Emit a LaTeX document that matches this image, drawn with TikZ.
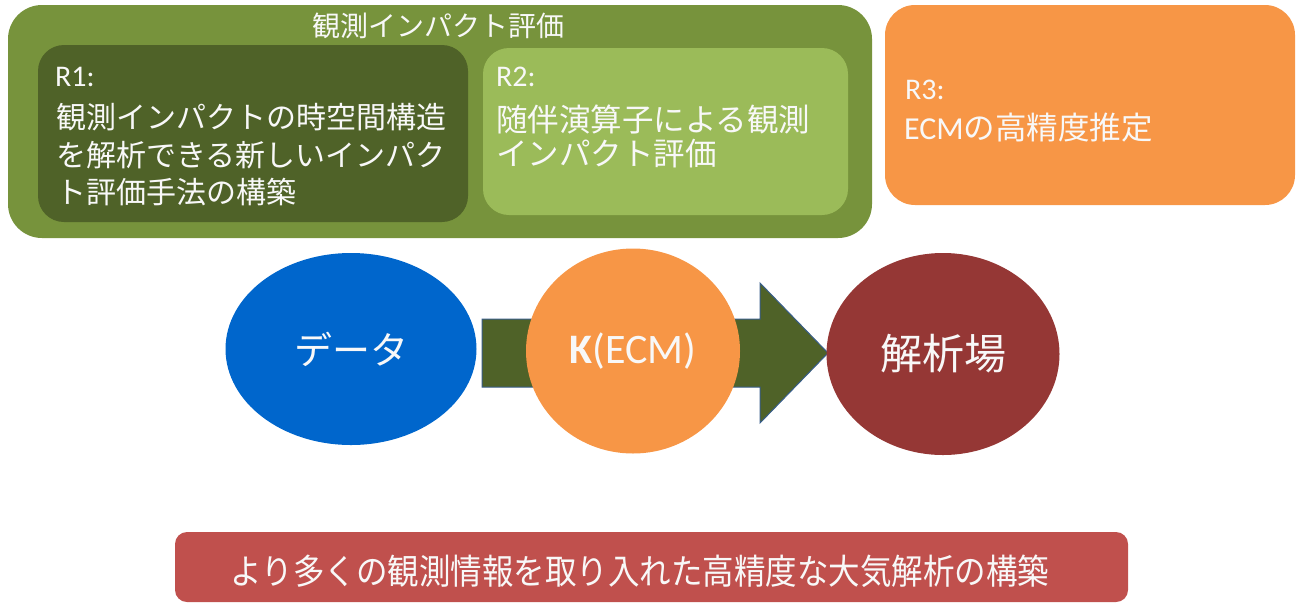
\documentclass[tikz,border=0pt]{standalone}
\usepackage{fontspec}
\newfontfamily\jp{Noto Sans CJK JP}
\newfontfamily\lat{Carlito}
\usetikzlibrary{shapes.geometric}
\definecolor{outergreen}{HTML}{77933C}
\definecolor{darkgreen}{HTML}{4F6228}
\definecolor{lightgreen}{HTML}{9BBB59}
\definecolor{orangebox}{HTML}{F79646}
\definecolor{bluefill}{HTML}{0066CC}
\definecolor{darkred}{HTML}{953735}
\definecolor{redbox}{HTML}{C0504D}
\definecolor{arrowline}{HTML}{385D8A}
\definecolor{txt}{HTML}{F8F8F8}
\begin{document}
\begin{tikzpicture}[x=1pt,y=-1pt,
  panel/.style={draw=none,inner sep=0pt,outer sep=0pt,anchor=north west},
  blob/.style={ellipse,draw=none,inner sep=0pt,outer sep=0pt,text=txt},
  label/.style={inner sep=0pt,outer sep=0pt,anchor=west,text=txt,align=left},
  rtag/.style={label,font=\lat\fontsize{30}{32}\selectfont},
  jline/.style={label,font=\jp\fontsize{30}{36}\selectfont}]
\useasboundingbox (0,0) rectangle (1305,603);
% top panels
\node[panel,fill=outergreen,rounded corners=34pt,minimum width=864pt,minimum height=233pt] (outer) at (8,5) {};
\node[inner sep=0pt,text=txt,font=\jp\fontsize{28}{32}\selectfont] (title) at (438,26) {観測インパクト評価};
\node[panel,fill=darkgreen,rounded corners=26pt,minimum width=430pt,minimum height=177pt] (r1) at (38,45) {};
\node[panel,fill=lightgreen,rounded corners=26pt,minimum width=365pt,minimum height=167pt] (r2) at (483,48) {};
\node[panel,fill=orangebox,rounded corners=30pt,minimum width=410pt,minimum height=200pt] (r3) at (885,5) {};
% R1 text
\node[rtag] (r1tag) at (55,77) {R1:};
\node[jline] (r1a) at (56,117) {観測インパクトの時空間構造};
\node[jline] (r1b) at (56,155) {を解析できる新しいインパク};
\node[jline] (r1c) at (56,192) {ト評価手法の構築};
% R2 text
\node[rtag] (r2tag) at (496,77) {R2:};
\node[jline,font=\jp\fontsize{31.5}{36}\selectfont] (r2a) at (496,119) {随伴演算子による観測};
\node[jline,font=\jp\fontsize{31.5}{36}\selectfont] (r2b) at (496,154) {インパクト評価};
% R3 text
\node[rtag] (r3tag) at (905,90) {R3:};
\node[jline,font=\jp\fontsize{31.5}{36}\selectfont] (r3a) at (904,128) {{\lat\fontsize{32}{36}\selectfont ECM}の高精度推定};
% middle flow
\node[blob,fill=bluefill,minimum width=251pt,minimum height=192pt,font=\jp\fontsize{38}{40}\selectfont] (data) at (351,349) {データ};
\draw[fill=darkgreen,draw=arrowline,line width=1pt,line join=miter]
  (482,319) -- (760,319) -- (760,283) -- (828,353) -- (760,423) -- (760,387) -- (482,387) -- cycle;
\node[blob,fill=orangebox,minimum width=214pt,minimum height=205pt,font=\lat\fontsize{42}{44}\selectfont] (ecm) at (633,351) {\textbf{K}(ECM)};
\node[blob,fill=darkred,minimum width=233pt,minimum height=202pt,font=\jp\fontsize{42}{44}\selectfont] (field) at (943,354) {解析場};
% bottom
\node[panel,fill=redbox,rounded corners=12pt,minimum width=953pt,minimum height=70pt] (goal) at (175,532) {};
\node[inner sep=0pt,text=txt,font=\jp\fontsize{35}{38}\selectfont] (goaltext) at (640,571) {\scalebox{0.9}[1]{より多くの観測情報を取り入れた高精度な大気解析の構築}};
\end{tikzpicture}
\end{document}
